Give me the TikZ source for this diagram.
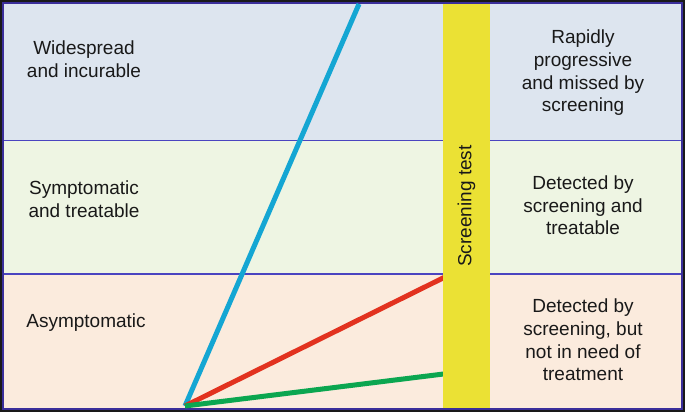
\documentclass[tikz,border=0pt]{standalone}
\usepackage{fontspec}
\setmainfont{Liberation Sans}
\definecolor{bandA}{HTML}{DDE5EF}
\definecolor{bandB}{HTML}{EEF5E3}
\definecolor{bandC}{HTML}{FBEBDD}
\definecolor{barY}{HTML}{EBE134}
\definecolor{lineB}{HTML}{14A6D3}
\definecolor{lineR}{HTML}{E2321F}
\definecolor{lineG}{HTML}{0BA650}
\definecolor{frameP}{HTML}{3A2E9A}
\definecolor{divP}{HTML}{4A44C0}
\tikzset{
  lbl/.style={align=center, inner sep=0pt, font=\fontsize{19}{22.7}\selectfont, text=black!90},
  ray/.style={line width=5pt},
  divider/.style={draw=divP, line width=1.4pt}
}
\begin{document}
\begin{tikzpicture}[x=1pt,y=1pt]
\useasboundingbox (0,0) rectangle (685,412);
% frame
\fill[black!90] (0,0) rectangle (685,412);
\fill[frameP] (2,2) rectangle (683,410);
% bands
\fill[bandA] (4,271.3) rectangle (681,408);
\fill[bandB] (4,138) rectangle (681,271.3);
\fill[bandC] (4,4) rectangle (681,138);
\draw[divider] (4,271.3) -- (681,271.3);
\draw[divider] (4,138) -- (681,138);
% rays
\coordinate (o) at (185,6);
\coordinate (b) at (359,408);
\coordinate (r) at (446,135.5);
\coordinate (g) at (446,38.3);
\draw[ray, lineB] (o) -- (b);
\draw[ray, lineR] (o) -- (r);
\draw[ray, lineG] (o) -- (g);
% screening bar
\node[fill=barY, minimum width=47pt, minimum height=404pt, inner sep=0pt] (bar) at (466.5,206) {};
\node[lbl, rotate=90] (st) at (bar.center) {Screening test};
% labels
\node[lbl] (wi) at (84,352.5) {Widespread\\and incurable};
\node[lbl] (sy) at (84,212.5) {Symptomatic\\and treatable};
\node[lbl] (as) at (86,89) {Asymptomatic};
\node[lbl] (ra) at (583,339) {Rapidly\\progressive\\and missed by\\screening};
\node[lbl] (dt) at (583,206.5) {Detected by\\screening and\\treatable};
\node[lbl] (dn) at (583,72) {Detected by\\screening, but\\not in need of\\treatment};
\end{tikzpicture}
\end{document}
